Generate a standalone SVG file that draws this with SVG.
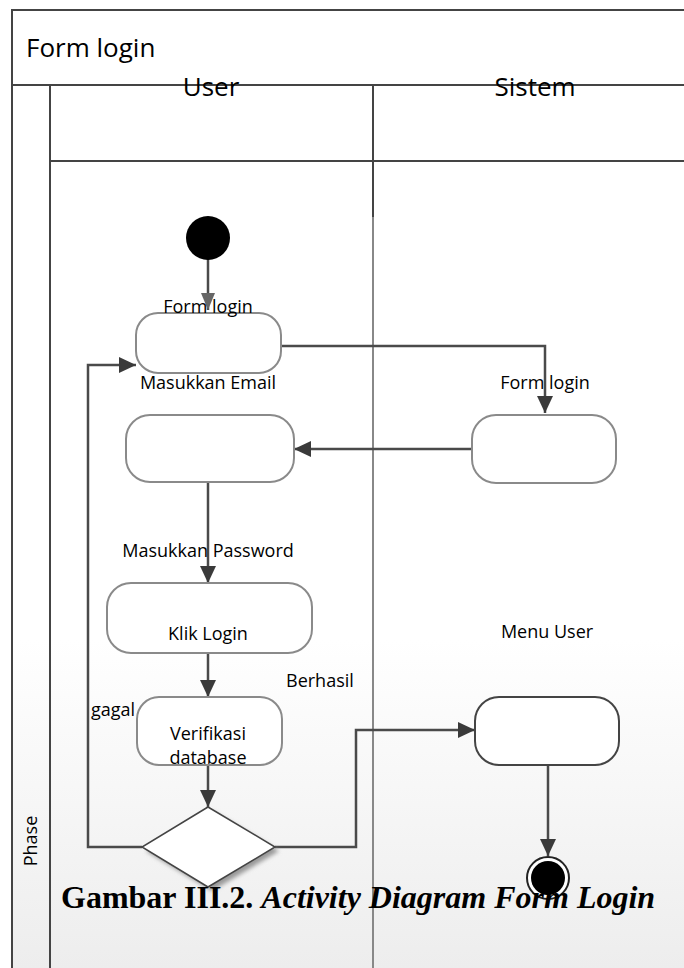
<svg xmlns="http://www.w3.org/2000/svg" width="684" height="968" viewBox="0 0 684 968">
<style>
.frame{stroke:#444;stroke-width:2;fill:none}
.node{fill:#fff;stroke:#8a8a8a;stroke-width:2}
.node2{fill:#fff;stroke:#444;stroke-width:2}
.edge{stroke:#4a4a4a;stroke-width:2.5;fill:none}
.lbl{font-family:"Open Sans","DejaVu Sans",sans-serif;font-size:18px;fill:#000}
.hdr{font-family:"Open Sans","DejaVu Sans",sans-serif;font-size:26px;fill:#000}
.cap{font-family:"Liberation Serif","Times New Roman",serif;font-size:32px;font-weight:bold;fill:#000}
</style>
<defs>
<marker id="arr" markerWidth="18" markerHeight="18" refX="17" refY="9" orient="auto" markerUnits="userSpaceOnUse">
<path d="M0,1 L17,9 L0,17 Z" fill="#3a3a3a"/>
</marker>
<marker id="arrL" markerWidth="18" markerHeight="18" refX="17" refY="9" orient="auto" markerUnits="userSpaceOnUse">
<path d="M0,2 L17,9 L0,16 Z" fill="#666"/>
</marker>
<linearGradient id="bg" x1="0" y1="0" x2="0" y2="1">
<stop offset="0" stop-color="#ffffff"/>
<stop offset="1" stop-color="#ededed"/>
</linearGradient>
<filter id="sh" x="-20%" y="-20%" width="140%" height="140%">
<feGaussianBlur stdDeviation="2"/>
</filter>
</defs>
<rect x="0" y="0" width="684" height="968" fill="#fff"/>
<rect x="12" y="640" width="672" height="328" fill="url(#bg)"/>

<g id="swimlanes">
<path class="frame" d="M12,968 V10 H684"/>
<path class="frame" d="M12,85 H684"/>
<path class="frame" d="M50,85 V968"/>
<path class="frame" d="M50,161 H684"/>
<path class="frame" d="M373,85 V217"/>
<path d="M373,217 V968" stroke="#888" stroke-width="2" fill="none"/>
<text class="hdr" x="26" y="57" font-size="27">Form login</text>
<text class="hdr" x="211" y="96" text-anchor="middle">User</text>
<text class="hdr" x="535" y="96" text-anchor="middle">Sistem</text>
<text class="lbl" transform="translate(37,841) rotate(-90)" text-anchor="middle" font-size="17">Phase</text>
</g>

<g id="connectors">
<path class="edge" d="M208,259 V310" stroke="#666" marker-end="url(#arrL)"/>
<path class="edge" d="M281,346 H545 V413" marker-end="url(#arr)"/>
<path class="edge" d="M472,449 H294" marker-end="url(#arr)"/>
<path class="edge" d="M208,482 V583" marker-end="url(#arr)"/>
<path class="edge" d="M208,653 V697" marker-end="url(#arr)"/>
<path class="edge" d="M208,765 V807" marker-end="url(#arr)"/>
<path class="edge" d="M142,847 H88 V365 H136" marker-end="url(#arr)"/>
<path class="edge" d="M275,847 H356 V730 H475" marker-end="url(#arr)"/>
<path class="edge" d="M548,765 V856" marker-end="url(#arr)"/>
</g>

<g id="start">
<circle cx="208" cy="238" r="22" fill="#000"/>
</g>

<g id="node-form-login-user">
<rect class="node" x="136" y="313" width="145" height="60" rx="22"/>
<text class="lbl" x="208" y="313" text-anchor="middle">Form login</text>
</g>

<g id="node-masukkan-email">
<rect class="node" x="126" y="415" width="168" height="67" rx="24"/>
<text class="lbl" x="208" y="389" text-anchor="middle">Masukkan Email</text>
</g>

<g id="node-form-login-sistem">
<rect class="node" x="472" y="415" width="144" height="68" rx="24"/>
<text class="lbl" x="545" y="389" text-anchor="middle">Form login</text>
</g>

<g id="node-klik-login">
<rect class="node" x="107" y="583" width="205" height="70" rx="24"/>
<text class="lbl" x="208" y="557" text-anchor="middle">Masukkan Password</text>
<text class="lbl" x="208" y="640" text-anchor="middle">Klik Login</text>
</g>

<g id="node-verifikasi">
<rect class="node" x="137" y="697" width="145" height="68" rx="22"/>
<text class="lbl" x="208" y="740" text-anchor="middle" font-size="17.5">Verifikasi</text>
<text class="lbl" x="208" y="764" text-anchor="middle" font-size="17.5">database</text>
</g>

<g id="decision">
<polygon points="212,811 279,851 212,891 146,851" fill="#999" filter="url(#sh)"/>
<polygon points="208,807 275,847 208,887 142,847" fill="#fff" stroke="#444" stroke-width="1.5"/>
<text class="lbl" x="91" y="716">gagal</text>
<text class="lbl" x="286" y="687">Berhasil</text>
</g>

<g id="node-menu-user">
<rect class="node2" x="475" y="697" width="144" height="68" rx="24"/>
<text class="lbl" x="547" y="638" text-anchor="middle">Menu User</text>
</g>

<g id="end">
<circle cx="548" cy="878" r="21" fill="#fff" stroke="#222" stroke-width="2"/>
<circle cx="548" cy="878" r="17" fill="#000"/>
</g>

<text class="cap" x="61" y="908">Gambar III.2. <tspan font-style="italic">Activity Diagram Form Login</tspan></text>
</svg>
